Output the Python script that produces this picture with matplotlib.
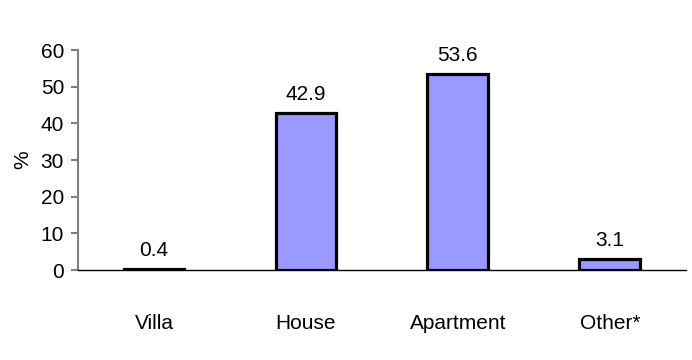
import matplotlib.pyplot as plt

categories = ['Villa', 'House', 'Apartment', 'Other*']
values = [0.4, 42.9, 53.6, 3.1]
yticks = [0, 10, 20, 30, 40, 50, 60]

plt.rcParams['font.family'] = ['Liberation Sans', 'DejaVu Sans']

fig = plt.figure(figsize=(6.92, 3.6), dpi=100)
ax = fig.add_axes([0.1127, 0.25, 0.8783, 0.611])

x = range(len(categories))
ax.bar(x, values, width=0.4, color='#9999ff', edgecolor='black', linewidth=2.3, zorder=3)
for i, v in enumerate(values):
    ax.text(i, v + 2.3, f'{v:.1f}', ha='center', va='bottom', fontsize=15)

ax.set_xlim(-0.5, 3.5)
ax.set_ylim(0, 60)
ax.set_yticks(yticks)
ax.set_xticks(list(x))
ax.set_xticklabels(categories, fontsize=15)
ax.tick_params(axis='x', length=0, pad=32)
ax.tick_params(axis='y', labelsize=15, length=5, width=1.5, color='#808080', pad=5)
ax.set_ylabel('%', fontsize=15, labelpad=6)

for s in ['top', 'right']:
    ax.spines[s].set_visible(False)
ax.spines['left'].set_color('#808080')
ax.spines['left'].set_linewidth(1.5)
ax.spines['bottom'].set_color('black')
ax.spines['bottom'].set_linewidth(1)
ax.spines['bottom'].set_zorder(4)

fig.savefig('out.png', dpi=100)
